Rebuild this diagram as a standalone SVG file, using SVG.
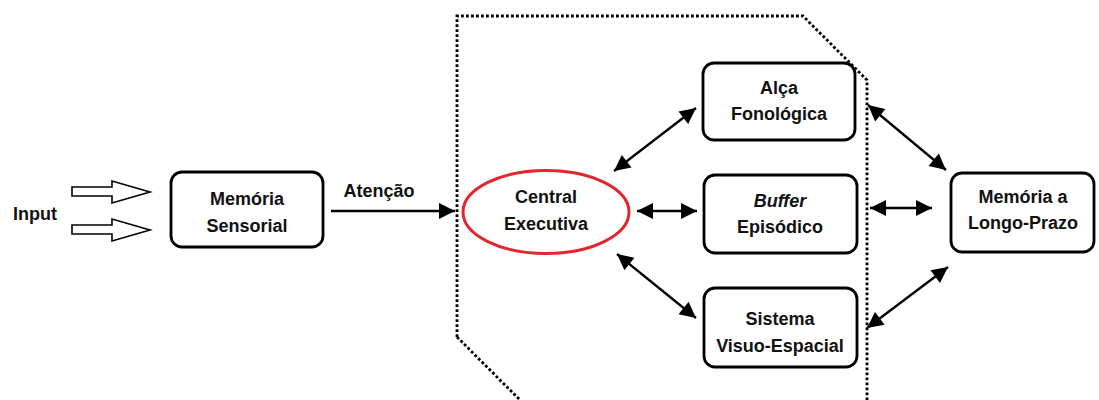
<svg xmlns="http://www.w3.org/2000/svg" width="1099" height="400" viewBox="0 0 1099 400">
<style>
.box{fill:#fff;stroke:#000;stroke-width:2.8}
.t{font-family:"Liberation Sans",Arial,sans-serif;font-weight:bold;font-size:18px;fill:#111;text-anchor:middle}
.c{stroke:#000;stroke-width:2.3;fill:none}
.hollow{fill:#fff;stroke:#000;stroke-width:1.6}
</style>
<defs>
<marker id="ah2" viewBox="0 0 10 10" refX="10" refY="5" markerWidth="19" markerHeight="16" markerUnits="userSpaceOnUse" orient="auto-start-reverse">
<path d="M0,0 L10,5 L0,10 z" fill="#000"/>
</marker>
</defs>
<rect width="1099" height="400" fill="#fff"/>
<g id="boundary">
<path d="M457,337 L457,16 L803,16 L867,80 L867,400 M457,337 L521,401" fill="none" stroke="#000" stroke-width="2.8" stroke-dasharray="2.8 2.2"/>
</g>
<g id="input">
<text class="t" x="35" y="220">Input</text>
<path class="hollow" d="M72,187 L112,187 L112,181 L150,192 L112,203 L112,196 L72,196 z"/>
<path class="hollow" d="M72,225 L112,225 L112,219 L150,230 L112,241 L112,234 L72,234 z"/>
</g>
<g id="memoria-sensorial">
<rect class="box" x="171" y="172" width="152" height="75" rx="11"/>
<text class="t" x="247" y="205">Memória</text>
<text class="t" x="247" y="232">Sensorial</text>
</g>
<g id="central-executiva">
<ellipse cx="546" cy="212" rx="83" ry="41.5" fill="#fff" stroke="#e3262d" stroke-width="3"/>
<text class="t" x="546" y="203">Central</text>
<text class="t" x="546" y="230">Executiva</text>
</g>
<g id="alca-fonologica">
<rect class="box" x="703" y="63" width="152" height="77" rx="11"/>
<text class="t" x="779" y="94">Alça</text>
<text class="t" x="779" y="120">Fonológica</text>
</g>
<g id="buffer-episodico">
<rect class="box" x="704" y="175" width="153" height="78" rx="11"/>
<text class="t" x="780" y="207" font-style="italic">Buffer</text>
<text class="t" x="780" y="233">Episódico</text>
</g>
<g id="sistema-visuo-espacial">
<rect class="box" x="704" y="288" width="153" height="79" rx="11"/>
<text class="t" x="780" y="325">Sistema</text>
<text class="t" x="780" y="352">Visuo-Espacial</text>
</g>
<g id="memoria-longo-prazo">
<rect class="box" x="951" y="173" width="143" height="79" rx="11"/>
<text class="t" x="1023" y="203">Memória a</text>
<text class="t" x="1023" y="229">Longo-Prazo</text>
</g>
<g id="connectors">
<line class="c" x1="331" y1="211" x2="455" y2="211" marker-end="url(#ah2)"/>
<text class="t" x="379" y="197">Atenção</text>
<line class="c" x1="614" y1="171" x2="696" y2="108" marker-start="url(#ah2)" marker-end="url(#ah2)"/>
<line class="c" x1="637" y1="211" x2="697" y2="211" marker-start="url(#ah2)" marker-end="url(#ah2)"/>
<line class="c" x1="617" y1="254" x2="696" y2="318" marker-start="url(#ah2)" marker-end="url(#ah2)"/>
<line class="c" x1="868" y1="105" x2="946" y2="170" marker-start="url(#ah2)" marker-end="url(#ah2)"/>
<line class="c" x1="870" y1="208" x2="932" y2="208" marker-start="url(#ah2)" marker-end="url(#ah2)"/>
<line class="c" x1="867" y1="328" x2="948" y2="267" marker-start="url(#ah2)" marker-end="url(#ah2)"/>
</g>
</svg>
